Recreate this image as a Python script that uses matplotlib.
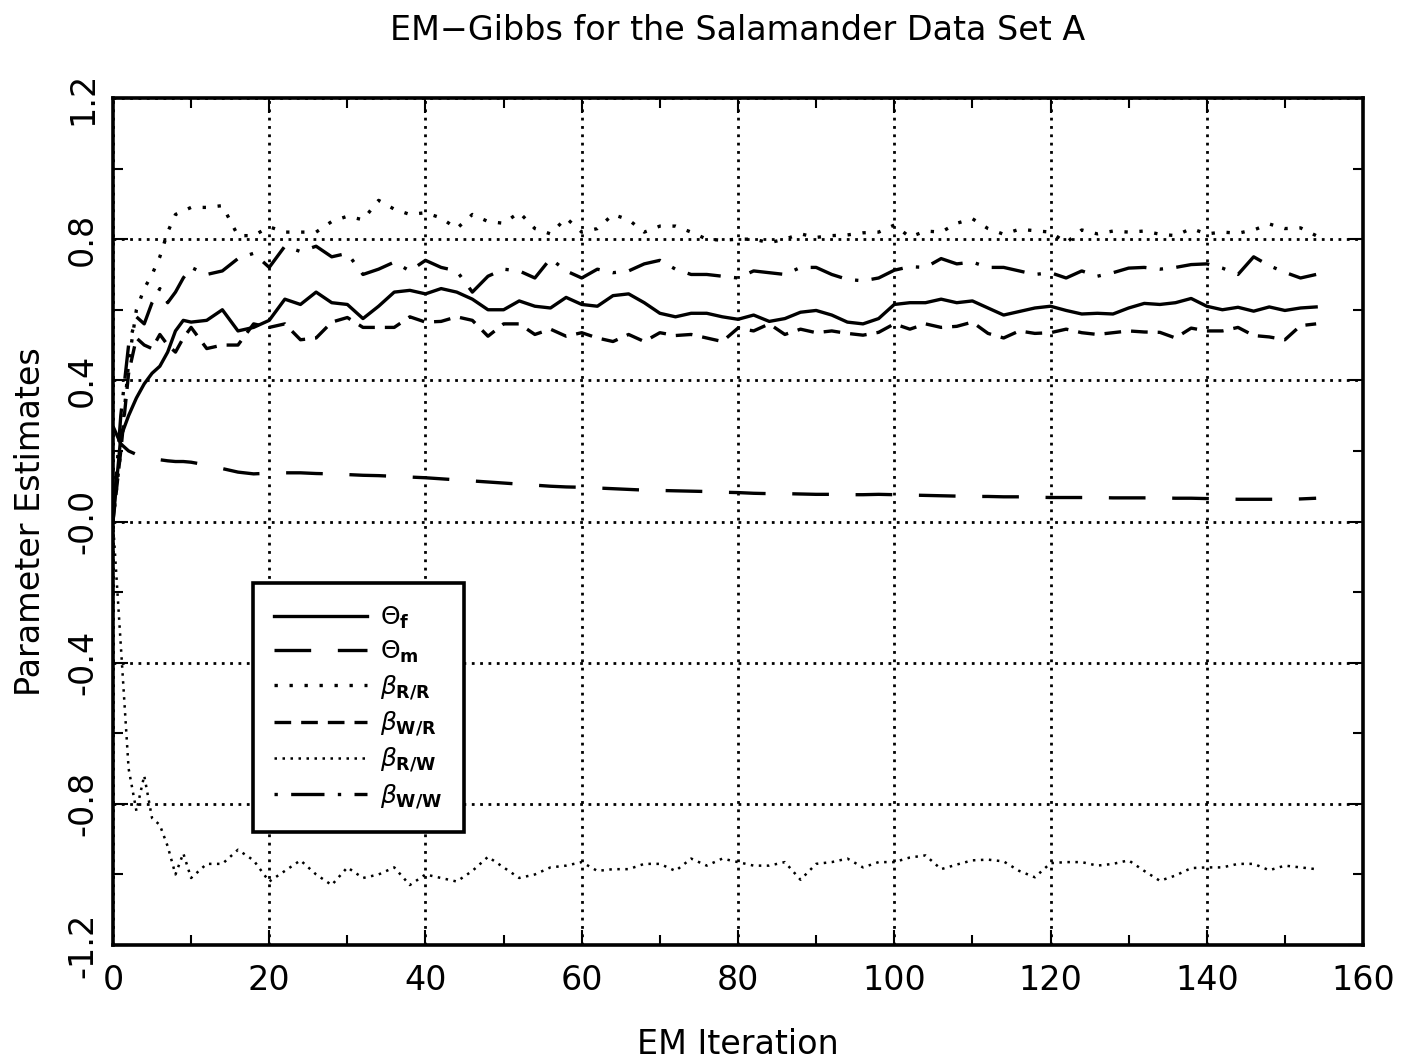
import matplotlib
matplotlib.use("Agg")
import matplotlib.pyplot as plt
from matplotlib.ticker import MultipleLocator, FixedLocator, FixedFormatter

# EM iterations (dense at the start, every 2nd iteration afterwards)
iterations = list(range(11)) + list(range(12, 155, 2))

theta_f = [0.0, 0.24, 0.30, 0.35, 0.39, 0.42, 0.44, 0.48, 0.54, 0.57, 0.565,
           0.57, 0.60, 0.54, 0.55, 0.57, 0.63, 0.615, 0.65, 0.62, 0.615,
           0.575, 0.61, 0.65, 0.655, 0.645, 0.66, 0.65, 0.63, 0.60, 0.60,
           0.625, 0.61, 0.605, 0.635, 0.615, 0.61, 0.64, 0.645, 0.62, 0.59,
           0.58, 0.59, 0.59, 0.58, 0.573, 0.585, 0.567, 0.575, 0.593, 0.598,
           0.585, 0.565, 0.56, 0.575, 0.615, 0.62, 0.62, 0.63, 0.62, 0.625,
           0.605, 0.585, 0.595, 0.605, 0.61, 0.598, 0.588, 0.59, 0.588, 0.605,
           0.618, 0.615, 0.62, 0.632, 0.61, 0.60, 0.607, 0.596, 0.608, 0.598,
           0.605, 0.608]

theta_m = [0.27, 0.22, 0.20, 0.19, 0.185, 0.18, 0.175, 0.172, 0.17, 0.17, 0.168,
           0.16, 0.15, 0.14, 0.135, 0.137, 0.138, 0.138, 0.136, 0.135, 0.133,
           0.131, 0.13, 0.128, 0.126, 0.124, 0.121, 0.118, 0.115, 0.112, 0.109,
           0.106, 0.103, 0.10, 0.098, 0.097, 0.095, 0.093, 0.091, 0.089, 0.088,
           0.087, 0.086, 0.085, 0.083, 0.082, 0.08, 0.079, 0.079, 0.078, 0.077,
           0.077, 0.076, 0.076, 0.077, 0.076, 0.075, 0.074, 0.073, 0.072, 0.071,
           0.071, 0.070, 0.070, 0.069, 0.068, 0.068, 0.068, 0.068, 0.067, 0.067,
           0.067, 0.067, 0.066, 0.066, 0.065, 0.064, 0.063, 0.063, 0.063, 0.063,
           0.064, 0.066]

beta_rr = [0.0, 0.2, 0.45, 0.6, 0.66, 0.70, 0.75, 0.82, 0.87, 0.88, 0.89,
           0.89, 0.895, 0.81, 0.81, 0.835, 0.82, 0.82, 0.82, 0.85, 0.865,
           0.855, 0.91, 0.885, 0.87, 0.875, 0.86, 0.83, 0.87, 0.85, 0.845,
           0.876, 0.83, 0.815, 0.86, 0.82, 0.83, 0.87, 0.855, 0.82, 0.837,
           0.837, 0.82, 0.80, 0.797, 0.80, 0.80, 0.79, 0.80, 0.815, 0.805,
           0.81, 0.812, 0.818, 0.82, 0.84, 0.806, 0.823, 0.82, 0.845, 0.858,
           0.83, 0.814, 0.828, 0.824, 0.82, 0.79, 0.826, 0.815, 0.823, 0.82,
           0.823, 0.814, 0.81, 0.83, 0.815, 0.82, 0.817, 0.826, 0.843, 0.83,
           0.832, 0.81]

beta_wr = [0.0, 0.2, 0.42, 0.52, 0.50, 0.49, 0.53, 0.50, 0.48, 0.52, 0.55,
           0.49, 0.50, 0.50, 0.56, 0.55, 0.56, 0.515, 0.52, 0.565, 0.578,
           0.55, 0.55, 0.55, 0.58, 0.565, 0.567, 0.58, 0.57, 0.525, 0.56,
           0.56, 0.53, 0.545, 0.525, 0.535, 0.52, 0.51, 0.53, 0.51, 0.535,
           0.527, 0.53, 0.52, 0.51, 0.548, 0.54, 0.56, 0.53, 0.545, 0.535,
           0.54, 0.533, 0.528, 0.536, 0.56, 0.545, 0.56, 0.55, 0.553, 0.565,
           0.533, 0.52, 0.54, 0.533, 0.535, 0.545, 0.535, 0.53, 0.535, 0.54,
           0.537, 0.536, 0.52, 0.548, 0.54, 0.54, 0.55, 0.527, 0.523, 0.515,
           0.555, 0.56]

beta_rw = [0.0, -0.35, -0.70, -0.82, -0.72, -0.84, -0.86, -0.92, -1.0, -0.94, -1.01,
           -0.97, -0.97, -0.93, -0.96, -1.02, -0.99, -0.96, -1.0, -1.03, -0.98,
           -1.01, -1.0, -0.98, -1.03, -1.0, -1.01, -1.02, -0.99, -0.95, -0.98,
           -1.01, -1.0, -0.98, -0.975, -0.965, -0.99, -0.985, -0.985, -0.97, -0.97,
           -0.99, -0.955, -0.975, -0.955, -0.965, -0.975, -0.975, -0.965, -1.015, -0.97,
           -0.965, -0.955, -0.98, -0.965, -0.965, -0.952, -0.946, -0.985, -0.972, -0.96,
           -0.958, -0.963, -0.99, -1.008, -0.968, -0.965, -0.965, -0.975, -0.97, -0.96,
           -0.99, -1.018, -1.003, -0.982, -0.98, -0.98, -0.97, -0.97, -0.988, -0.975,
           -0.98, -0.985]

beta_ww = [0.0, 0.30, 0.50, 0.58, 0.56, 0.62, 0.66, 0.62, 0.65, 0.69, 0.72,
           0.70, 0.71, 0.745, 0.76, 0.72, 0.78, 0.765, 0.78, 0.75, 0.76,
           0.70, 0.715, 0.735, 0.71, 0.74, 0.72, 0.71, 0.65, 0.695, 0.715,
           0.71, 0.69, 0.745, 0.71, 0.69, 0.715, 0.705, 0.71, 0.73, 0.74,
           0.715, 0.70, 0.70, 0.695, 0.69, 0.71, 0.705, 0.70, 0.72, 0.72,
           0.70, 0.686, 0.682, 0.69, 0.712, 0.722, 0.72, 0.745, 0.73, 0.735,
           0.72, 0.72, 0.71, 0.70, 0.705, 0.69, 0.71, 0.695, 0.705, 0.718,
           0.72, 0.715, 0.72, 0.728, 0.73, 0.718, 0.70, 0.75, 0.725, 0.706,
           0.69, 0.70]

y_ticks = [-1.2, -0.8, -0.4, 0.0, 0.4, 0.8, 1.2]
y_tick_labels = ["-1.2", "-0.8", "-0.4", "-0.0", "0.4", "0.8", "1.2"]

fig = plt.figure(figsize=(14.21, 10.64), dpi=100)
ax = fig.add_axes([0.0795, 0.1118, 0.8797, 0.7961])

ax.plot(iterations, theta_f, color="black", lw=2.4, ls="-",
        label=r"$\Theta_{\mathbf{f}}$")
ax.plot(iterations, theta_m, color="black", lw=2.4, ls=(0, (11, 8)),
        label=r"$\Theta_{\mathbf{m}}$")
ax.plot(iterations, beta_rr, color="black", lw=2.4, ls=(0, (1, 3.5)),
        label=r"$\beta_{\mathbf{R/R}}$")
ax.plot(iterations, beta_wr, color="black", lw=2.4, ls=(0, (5, 3)),
        label=r"$\beta_{\mathbf{W/R}}$")
ax.plot(iterations, beta_rw, color="black", lw=1.8, ls=(0, (1, 2.2)),
        label=r"$\beta_{\mathbf{R/W}}$")
ax.plot(iterations, beta_ww, color="black", lw=2.4, ls=(0, (1, 4, 10, 4)),
        label=r"$\beta_{\mathbf{W/W}}$")

ax.set_xlim(0, 160)
ax.set_ylim(-1.2, 1.2)
ax.xaxis.set_major_locator(MultipleLocator(20))
ax.xaxis.set_minor_locator(MultipleLocator(10))
ax.yaxis.set_major_locator(FixedLocator(y_ticks))
ax.yaxis.set_major_formatter(FixedFormatter(y_tick_labels))
ax.yaxis.set_minor_locator(MultipleLocator(0.2))

ax.grid(True, which="major", color="black", ls=(0, (1, 2)), lw=2.0)
ax.tick_params(which="both", direction="in", top=True, right=True, width=1.5)
ax.tick_params(which="major", length=11)
ax.tick_params(which="minor", length=7)
ax.tick_params(axis="x", labelsize=24, pad=14)
ax.tick_params(axis="y", labelsize=24, pad=10)
for lbl in ax.get_yticklabels():
    lbl.set_rotation(90)
    lbl.set_va("center")

for sp in ax.spines.values():
    sp.set_linewidth(2.6)

ax.set_title("EM\u2212Gibbs for the Salamander Data Set A", fontsize=24, pad=42)
ax.set_xlabel("EM Iteration", fontsize=24, labelpad=22)
ax.set_ylabel("Parameter Estimates", fontsize=24, labelpad=14)

leg = ax.legend(loc="upper left", bbox_to_anchor=(0.112, 0.427),
                borderaxespad=0, fontsize=18, handlelength=3.7,
                handletextpad=0.55, labelspacing=0.33, fancybox=False,
                framealpha=1, edgecolor="black", borderpad=0.85)
leg.get_frame().set_linewidth(2.6)

fig.savefig("out.png", dpi=100)
